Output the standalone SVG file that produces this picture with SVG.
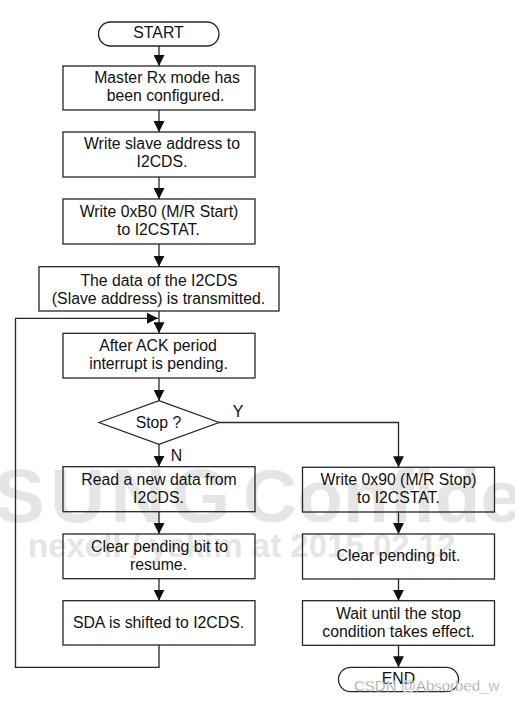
<svg xmlns="http://www.w3.org/2000/svg" width="515" height="702" viewBox="0 0 515 702">
<style>
.wm{font-family:"Liberation Sans",Arial,sans-serif;font-weight:bold;fill:#e5e5e5}
.box{fill:none;stroke:#262626;stroke-width:1.3}
.t{font-family:"Liberation Sans",Arial,sans-serif;font-size:15.8px;fill:#111;text-anchor:middle}
.c{fill:none;stroke:#262626;stroke-width:1.3}
.csdn{font-family:"Liberation Sans",Arial,sans-serif;font-size:15px;fill:#8c8c8c;stroke:#fff;stroke-width:0.4}
</style>
<defs>
<marker id="ah" markerUnits="userSpaceOnUse" markerWidth="11" markerHeight="11" refX="11" refY="5.5" orient="auto">
<path d="M0,0 L11,5.5 L0,11 z" fill="#111"/>
</marker>
</defs>
<rect width="515" height="702" fill="#fff"/>
<g id="watermark">
<text class="wm" x="-6" y="522" font-size="76" letter-spacing="5.5">SUNG</text>
<text class="wm" x="243" y="522" font-size="75">Confidential</text>
<text class="wm" x="28" y="557" font-size="33">nexell / yskim at 2015.02.12</text>
</g>
<g id="connectors">
<path class="c" d="M159,46 V66" marker-end="url(#ah)"/>
<path class="c" d="M159,110 V132" marker-end="url(#ah)"/>
<path class="c" d="M159,177 V199" marker-end="url(#ah)"/>
<path class="c" d="M159,244 V266.7" marker-end="url(#ah)"/>
<path class="c" d="M159,311 V333.3" marker-end="url(#ah)"/>
<path class="c" d="M159,378 V400.7" marker-end="url(#ah)"/>
<path class="c" d="M159,444.3 V466.7" marker-end="url(#ah)"/>
<path class="c" d="M159,511.7 V534" marker-end="url(#ah)"/>
<path class="c" d="M159,578.7 V600.7" marker-end="url(#ah)"/>
<path class="c" d="M159,645 V667.3 H15.5 V318.3 H158" marker-end="url(#ah)"/>
<path class="c" d="M219,422.5 H398.5 V467.3" marker-end="url(#ah)"/>
<path class="c" d="M398.5,512 V534" marker-end="url(#ah)"/>
<path class="c" d="M398.5,579 V600.7" marker-end="url(#ah)"/>
<path class="c" d="M398.5,645.3 V667.3" marker-end="url(#ah)"/>
<text class="t" x="238" y="417" >Y</text>
<text class="t" x="176.5" y="461">N</text>
</g>
<g id="start">
<rect class="box" x="98.5" y="22" width="120.5" height="24" rx="12"/>
<text class="t" x="158.5" y="38">START</text>
</g>
<g id="n1">
<rect class="box" x="63" y="66" width="192" height="44"/>
<text class="t" x="167" y="82.5">Master Rx mode has</text>
<text class="t" x="165.5" y="101">been configured.</text>
</g>
<g id="n2">
<rect class="box" x="63" y="132" width="192" height="45"/>
<text class="t" x="162" y="148.5">Write slave address to</text>
<text class="t" x="162" y="167">I2CDS.</text>
</g>
<g id="n3">
<rect class="box" x="63" y="199" width="192" height="45"/>
<text class="t" x="159" y="217">Write 0xB0 (M/R Start)</text>
<text class="t" x="158.5" y="234.5">to I2CSTAT.</text>
</g>
<g id="n4">
<rect class="box" x="39" y="266.7" width="240" height="44.3"/>
<text class="t" x="159" y="285.5">The data of the I2CDS</text>
<text class="t" x="158.5" y="304">(Slave address) is transmitted.</text>
</g>
<g id="n5">
<rect class="box" x="63" y="333.3" width="192" height="44.7"/>
<text class="t" x="158" y="351">After ACK period</text>
<text class="t" x="158.5" y="369">interrupt is pending.</text>
</g>
<g id="stop">
<path class="box" d="M99,422.5 L159,400.7 L219,422.5 L159,444.3 Z"/>
<text class="t" x="158.5" y="428">Stop ?</text>
</g>
<g id="l1">
<rect class="box" x="63" y="466.7" width="192" height="45"/>
<text class="t" x="159" y="485">Read a new data from</text>
<text class="t" x="158.5" y="503">I2CDS.</text>
</g>
<g id="l2">
<rect class="box" x="63" y="534" width="192" height="44.7"/>
<text class="t" x="159.5" y="551.7">Clear pending bit to</text>
<text class="t" x="158.5" y="570">resume.</text>
</g>
<g id="l3">
<rect class="box" x="63" y="600.7" width="192" height="44.3"/>
<text class="t" x="158.5" y="628">SDA is shifted to I2CDS.</text>
</g>
<g id="r1">
<rect class="box" x="302.5" y="467.3" width="192" height="44.7"/>
<text class="t" x="398.5" y="484.5">Write 0x90 (M/R Stop)</text>
<text class="t" x="398.5" y="503">to I2CSTAT.</text>
</g>
<g id="r2">
<rect class="box" x="302.5" y="534" width="192" height="45"/>
<text class="t" x="398.5" y="560.5">Clear pending bit.</text>
</g>
<g id="r3">
<rect class="box" x="302.5" y="600.7" width="192" height="44.6"/>
<text class="t" x="398.5" y="619">Wait until the stop</text>
<text class="t" x="398.5" y="637">condition takes effect.</text>
</g>
<g id="end">
<rect class="box" x="338.5" y="667.3" width="120" height="24.4" rx="12.2"/>
<text class="t" x="398.5" y="684">END</text>
</g>
<text class="csdn" x="354" y="690.5">CSDN @Absorbed_w</text>
</svg>
